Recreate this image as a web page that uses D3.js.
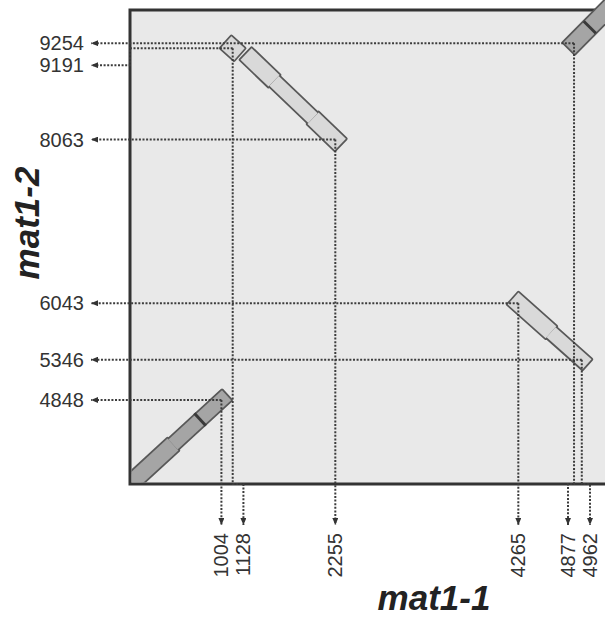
<!DOCTYPE html>
<html>
<head>
<meta charset="utf-8">
<script src="https://cdn.jsdelivr.net/npm/d3@7"></script>
<style>
body { margin: 0; background: #fff; }
text { font-family: "Liberation Sans", Arial, sans-serif; }
</style>
</head>
<body>
<svg id="chart" width="605" height="617"></svg>
<script>
// mapped positions, x mark i pairs with y mark i
var markX = [1004, 1128, 2255, 4265, 4877, 4962];
var markY = [4848, 9191, 8063, 6043, 9254, 5346];

// aligned blocks, start/end as (mat1-1, mat1-2)
var blockX1 = [0, 1112, 1330, 4265, 4877];
var blockY1 = [3811, 9207, 9060, 6043, 9254];
var blockX2 = [1004, 1144, 2255, 4962, 5420];
var blockY2 = [4848, 9175, 8063, 5346, 9870];
var blockTone = ["dark", "light", "light", "light", "dark"];
// small steps in block edges, and dark cross lines (mat1-1 coordinate)
var blockNotch = [[472], [], [1582, 2010], [4624], []];
var blockCross = [[770], [], [], [], [5050]];

var xDomain = [0, 5250];
var yDomain = [3811, 9663];

var LEFT = 130, TOP = 10, BOTTOM = 484, RIGHT = 608;
var BAND = 16;
var TONES = {dark: "#a5a5a5", light: "#d9d9d9"};
var EDGE = "#585858";

var svg = d3.select('#chart');
var x = d3.scaleLinear().domain(xDomain).range([LEFT, RIGHT]);
var y = d3.scaleLinear().domain(yDomain).range([BOTTOM, TOP]);

svg.append('defs').append('clipPath').attr('id', 'plotclip')
    .append('rect').attr('x', LEFT + 1.5).attr('y', -50).attr('width', 600).attr('height', BOTTOM - 1.5 + 50);

var marker = svg.select('defs').append('marker')
    .attr('id', 'arrow')
    .attr('viewBox', '0 0 7 6')
    .attr('refX', 7).attr('refY', 3)
    .attr('markerWidth', 7).attr('markerHeight', 6)
    .attr('markerUnits', 'userSpaceOnUse')
    .attr('orient', 'auto');
marker.append('path').attr('d', 'M0,0L7,3L0,6z').attr('fill', '#333');

// plot area
svg.append('rect')
    .attr('x', LEFT).attr('y', TOP)
    .attr('width', RIGHT - LEFT + 4).attr('height', BOTTOM - TOP)
    .attr('fill', '#e9e9e9')
    .attr('stroke', '#333')
    .attr('stroke-width', 3);

function quad(ax, ay, bx, by, w, e0, e1) {
    var dx = bx - ax, dy = by - ay, L = Math.hypot(dx, dy);
    var ux = dx / L, uy = dy / L, nx = -uy * w / 2, ny = ux * w / 2;
    var sx = ax - ux * e0, sy = ay - uy * e0, tx = bx + ux * e1, ty = by + uy * e1;
    return [[sx + nx, sy + ny], [tx + nx, ty + ny], [tx - nx, ty - ny], [sx - nx, sy - ny]];
}

// blocks
var blocks = svg.append('g').attr('clip-path', 'url(#plotclip)');
var pieces = [], crosses = [];
for (var i = 0; i < blockX1.length; i++) {
    var ax = x(blockX1[i]), ay = y(blockY1[i]), bx = x(blockX2[i]), by = y(blockY2[i]);
    var cuts = [0].concat(blockNotch[i].map(function(v){ return (v - blockX1[i]) / (blockX2[i] - blockX1[i]); }), [1]);
    for (var k = 0; k < cuts.length - 1; k++) {
        var t0 = cuts[k], t1 = cuts[k + 1];
        pieces.push({
            pts: quad(ax + (bx - ax) * t0, ay + (by - ay) * t0, ax + (bx - ax) * t1, ay + (by - ay) * t1,
                      k % 2 ? BAND - 2.5 : BAND, k == 0 ? BAND / 2 - 1 : 0, k == cuts.length - 2 ? BAND / 2 - 1 : 0),
            tone: blockTone[i]
        });
    }
    blockCross[i].forEach(function(v){
        var t = (v - blockX1[i]) / (blockX2[i] - blockX1[i]);
        crosses.push(quad(ax + (bx - ax) * t, ay + (by - ay) * t,
                          ax + (bx - ax) * (t + 0.001), ay + (by - ay) * (t + 0.001), BAND + 1, 0, 0));
    });
}
var line = d3.line();
blocks.selectAll('.band-edge').data(pieces).enter().append('path')
    .attr('class', 'band-edge')
    .attr('d', function(d){ return line(d.pts) + 'Z'; })
    .attr('fill', EDGE).attr('stroke', EDGE).attr('stroke-width', 3.5).attr('stroke-linejoin', 'round');
blocks.selectAll('.band-fill').data(pieces).enter().append('path')
    .attr('class', 'band-fill')
    .attr('d', function(d){ return line(d.pts) + 'Z'; })
    .attr('fill', function(d){ return TONES[d.tone]; });
blocks.selectAll('.cross').data(crosses).enter().append('line')
    .attr('x1', function(d){ return d[0][0]; }).attr('y1', function(d){ return d[0][1]; })
    .attr('x2', function(d){ return d[3][0]; }).attr('y2', function(d){ return d[3][1]; })
    .attr('stroke', '#3a3a3a').attr('stroke-width', 3);

// label positions, pushed apart where marks sit close, kept below a limit
function spread(vals, gap, max) {
    var order = d3.range(vals.length).sort(function(a, b){ return vals[a] - vals[b]; });
    var out = vals.slice(), j;
    for (j = 1; j < order.length; j++) {
        if (out[order[j]] < out[order[j - 1]] + gap) out[order[j]] = out[order[j - 1]] + gap;
    }
    var last = order[order.length - 1];
    if (out[last] > max) out[last] = max;
    for (j = order.length - 1; j > 0; j--) {
        out[order[j - 1]] = Math.min(out[order[j - 1]], out[order[j]] - gap);
    }
    return out;
}
var labelX = spread(markX.map(x), 22, 590);
var labelY = spread(markY.map(y), 22, 600);

// guide lines
var guides = svg.append('g').attr('class', 'guides')
    .attr('fill', 'none').attr('stroke', '#3c3c3c').attr('stroke-width', 2).attr('stroke-dasharray', '2,1.6');
markX.forEach(function(mx, i){
    var px = x(mx), py = y(markY[i]);
    guides.append('path')
        .attr('d', 'M' + px + ',' + py + 'H' + LEFT + 'V' + labelY[i] + 'H91')
        .attr('marker-end', 'url(#arrow)');
    guides.append('path')
        .attr('d', 'M' + px + ',' + py + 'V' + BOTTOM + 'H' + labelX[i] + 'V525')
        .attr('marker-end', 'url(#arrow)');
});

// labels
svg.append('g').selectAll('text').data(markY).enter().append('text')
    .attr('x', 84).attr('y', function(d, i){ return labelY[i]; })
    .attr('dy', '0.35em').attr('text-anchor', 'end')
    .style('font-size', '20px').attr('fill', '#333')
    .text(function(d){ return d; });

svg.append('g').selectAll('text').data(markX).enter().append('text')
    .attr('transform', function(d, i){ return 'translate(' + labelX[i] + ',533) rotate(-90)'; })
    .attr('dy', '0.35em').attr('text-anchor', 'end')
    .style('font-size', '20px').attr('fill', '#333')
    .text(function(d){ return d; });

// axis titles
svg.append('text')
    .attr('x', 434).attr('y', 610)
    .attr('text-anchor', 'middle')
    .style('font-size', '35px').style('font-weight', 'bold').style('font-style', 'italic')
    .attr('fill', '#222')
    .text('mat1-1');
svg.append('text')
    .attr('transform', 'translate(39,223) rotate(-90)')
    .attr('text-anchor', 'middle')
    .style('font-size', '35px').style('font-weight', 'bold').style('font-style', 'italic')
    .attr('fill', '#222')
    .text('mat1-2');
</script>
</body>
</html>
